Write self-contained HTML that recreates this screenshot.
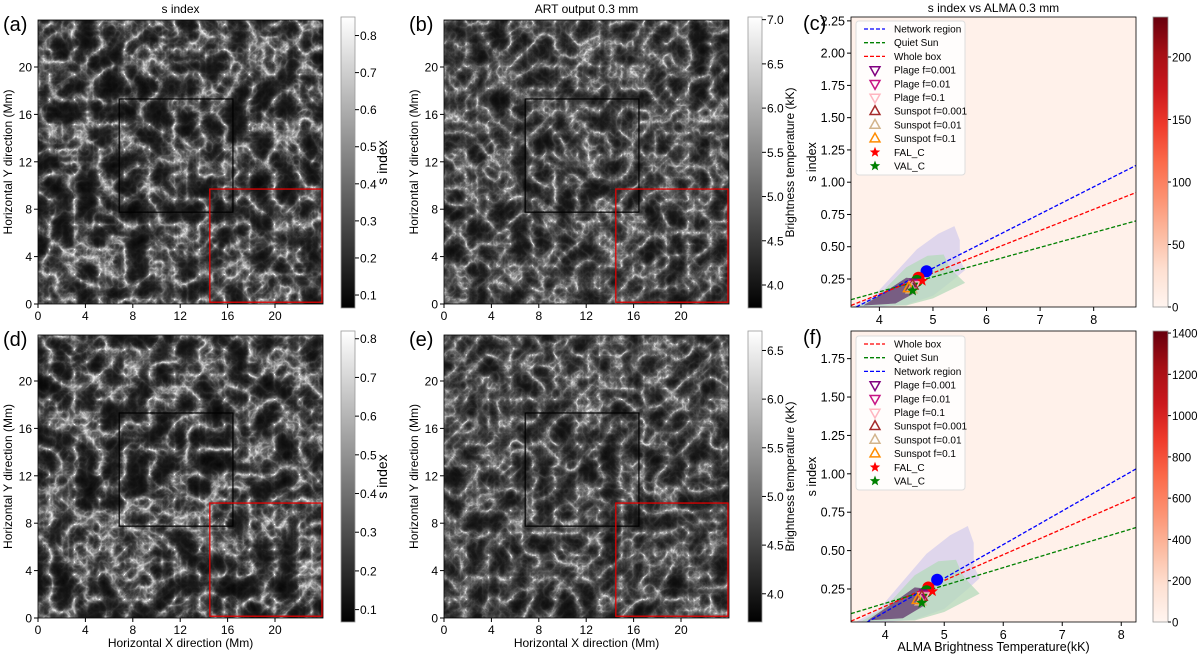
<!DOCTYPE html>
<html><head><meta charset="utf-8"><style>
html,body{margin:0;padding:0;background:#fff;}
svg{display:block;font-family:"Liberation Sans","DejaVu Sans",sans-serif;}
</style></head><body>
<svg id="fig" width="1200" height="655" viewBox="0 0 1200 655" xmlns="http://www.w3.org/2000/svg">
<defs>
<filter id="texA" x="0" y="0" width="100%" height="100%" color-interpolation-filters="sRGB">
<feTurbulence type="turbulence" baseFrequency="0.04" numOctaves="4" seed="4"/>
<feColorMatrix type="matrix" values="1 0 0 0 0  1 0 0 0 0  1 0 0 0 0  0 0 0 0 1"/>
<feComponentTransfer>
<feFuncR type="table" tableValues="1 0.66 0.4 0.25 0.16 0.11 0.08 0.06 0.04 0.03 0.03"/>
<feFuncG type="table" tableValues="1 0.66 0.4 0.25 0.16 0.11 0.08 0.06 0.04 0.03 0.03"/>
<feFuncB type="table" tableValues="1 0.66 0.4 0.25 0.16 0.11 0.08 0.06 0.04 0.03 0.03"/>
</feComponentTransfer>
</filter>
<filter id="texB" x="0" y="0" width="100%" height="100%" color-interpolation-filters="sRGB">
<feTurbulence type="turbulence" baseFrequency="0.045" numOctaves="4" seed="9"/>
<feColorMatrix type="matrix" values="1 0 0 0 0  1 0 0 0 0  1 0 0 0 0  0 0 0 0 1"/>
<feComponentTransfer>
<feFuncR type="table" tableValues="1 0.62 0.4 0.28 0.2 0.14 0.1 0.08 0.06 0.05 0.04"/>
<feFuncG type="table" tableValues="1 0.62 0.4 0.28 0.2 0.14 0.1 0.08 0.06 0.05 0.04"/>
<feFuncB type="table" tableValues="1 0.62 0.4 0.28 0.2 0.14 0.1 0.08 0.06 0.05 0.04"/>
</feComponentTransfer>
</filter>
<linearGradient id="grayG" x1="0" y1="1" x2="0" y2="0"><stop offset="0" stop-color="#000"/><stop offset="1" stop-color="#fff"/></linearGradient>
<linearGradient id="redG" x1="0" y1="1" x2="0" y2="0">
<stop offset="0" stop-color="#fff5f0"/><stop offset="0.125" stop-color="#fee0d2"/><stop offset="0.25" stop-color="#fcbba1"/><stop offset="0.375" stop-color="#fc9272"/><stop offset="0.5" stop-color="#fb6a4a"/><stop offset="0.625" stop-color="#ef3b2c"/><stop offset="0.75" stop-color="#cb181d"/><stop offset="0.875" stop-color="#a50f15"/><stop offset="1" stop-color="#67000d"/></linearGradient>
</defs>
<g id="root"></g>
</svg>
<script>
// ---- scatter panel data (c) ----
const xTicksC = [4,5,6,7,8];
const yTicksC = [0.25,0.5,0.75,1.0,1.25,1.5,1.75,2.0,2.25];
const yTickLabelsC = ["0.25","0.50","0.75","1.00","1.25","1.50","1.75","2.00","2.25"];
const lineNamesC = ["Network region","Quiet Sun","Whole box"];
const lineColorsC = ["#0000ff","#008000","#ff0000"];
const lineSlopesC = [0.21,0.1147,0.1645];
const lineInterceptsC = [-0.716,-0.308,-0.526];
const cbTicksC = [0,50,100,150,200];
// ---- scatter panel data (f) ----
const xTicksF = [4,5,6,7,8];
const yTicksF = [0.25,0.5,0.75,1.0,1.25,1.5,1.75];
const yTickLabelsF = ["0.25","0.50","0.75","1.00","1.25","1.50","1.75"];
const lineNamesF = ["Whole box","Quiet Sun","Network region"];
const lineColorsF = ["#ff0000","#008000","#0000ff"];
const lineSlopesF = [0.1677,0.116,0.219];
const lineInterceptsF = [-0.533,-0.307,-0.775];
const cbTicksF = [0,200,400,600,800,1000,1200,1400];
// ---- shared markers ----
const markerNames = ["Plage f=0.001","Plage f=0.01","Plage f=0.1","Sunspot f=0.001","Sunspot f=0.01","Sunspot f=0.1","FAL_C","VAL_C"];
const markerX = [4.68,4.67,4.65,4.62,4.6,4.55,4.8,4.62];
const markerY = [0.22,0.21,0.2,0.2,0.17,0.18,0.235,0.16];
const circleX = [4.88,4.73,4.7];
const circleY = [0.31,0.26,0.235];
const circleColors = ["#0000ff","#ff0000","#008000"];
// contour envelopes (data space)
const purpleX = [3.5,3.9,4.3,4.7,5.1,5.4,5.5,5.5,5.6,5.4,5.0,4.5,4.0];
const purpleY = [0.035,0.12,0.3,0.48,0.6,0.66,0.55,0.4,0.32,0.25,0.12,0.05,0.035];
const greenX = [3.6,4.0,4.5,4.9,5.2,5.3,5.4,5.6,5.4,5.0,4.5];
const greenY = [0.04,0.13,0.34,0.43,0.44,0.35,0.3,0.22,0.18,0.1,0.045];
const coreX = [3.7,4.1,4.5,4.75,4.65,4.3];
const coreY = [0.045,0.15,0.26,0.25,0.14,0.06];
// ---- image panel ticks ----
const imgTicks = [0,4,8,12,16,20];
const cbSTicks = [0.1,0.2,0.3,0.4,0.5,0.6,0.7,0.8];
const cbTTicksB = [4.0,4.5,5.0,5.5,6.0,6.5,7.0];
const cbTTicksE = [4.0,4.5,5.0,5.5,6.0,6.5];

const NS="http://www.w3.org/2000/svg";
const root=document.getElementById('root');
function mk(tag,attrs,name,inter,parent){
  const el=document.createElementNS(NS,tag);
  for(const k in attrs) el.setAttribute(k,attrs[k]);
  
  
  (parent||root).appendChild(el);return el;
}
function txt(x,y,s,size,name,anchor,rot){
  const a={x:x,y:y,'font-size':size,fill:'#000','text-anchor':anchor||'middle'};
  if(rot) a.transform='rotate(-90 '+x+' '+y+')';
  const t=mk('text',a,name,false);t.textContent=s;return t;
}

function imagePanel(x0,y0,w,h,filt,letter,title,pre,showXLabel){
  const s=w/24.05;
  const g=mk('g',{},pre+'-image-panel',false);
  mk('rect',{x:x0,y:y0,width:w,height:h,fill:'#222',filter:'url(#'+filt+')'},pre+'-heatmap',false,g);
  mk('rect',{x:x0,y:y0,width:w,height:h,fill:'none',stroke:'#000','stroke-width':0.8},pre+'-frame',false,g);
  mk('rect',{x:x0+6.85*s,y:y0+h-17.3*s,width:9.6*s,height:9.55*s,fill:'none',stroke:'#000','stroke-width':1.2},pre+'-network-box',false,g);
  mk('rect',{x:x0+14.5*s,y:y0+h-9.7*s,width:w-14.5*s-1,height:9.55*s,fill:'none',stroke:'#e00000','stroke-width':1.3},pre+'-quiet-box',false,g);
  imgTicks.forEach(v=>{
    const px=x0+v*s, py=y0+h-v*s;
    mk('line',{x1:px,y1:y0+h,x2:px,y2:y0+h+4,stroke:'#000'},pre+'-x-tick',false,g);
    txt(px,y0+h+16,String(v),12,pre+'-x-tick-label');
    mk('line',{x1:x0,y1:py,x2:x0-4,y2:py,stroke:'#000'},pre+'-y-tick',false,g);
    txt(x0-6,py+4.5,String(v),12,pre+'-y-tick-label','end');
  });
  txt(x0-26,y0+h/2,'Horizontal Y direction (Mm)',12,pre+'-y-axis-title','middle',true);
  if(showXLabel) txt(x0+w/2,y0+h+29,'Horizontal X direction (Mm)',12,pre+'-x-axis-title');
  if(title) txt(x0+w/2,y0-7,title,12,pre+'-title');
  txt(x0-35,y0+11,letter,20,pre+'-panel-letter','start');
}
function grayBar(x,top,bot,vmin,vmax,ticks,dec,label,pre){
  mk('rect',{x:x,y:top,width:14,height:bot-top,fill:'url(#grayG)',stroke:'#999','stroke-width':0.8},pre+'-colorbar',false);
  ticks.forEach(v=>{
    const py=bot-(v-vmin)/(vmax-vmin)*(bot-top);
    mk('line',{x1:x+14,y1:py,x2:x+18,y2:py,stroke:'#000'},pre+'-colorbar-tick',false);
    txt(x+19,py+4.5,v.toFixed(dec),12,pre+'-colorbar-tick-label','start');
  });
  txt(x+46,(top+bot)/2,label,label.length>10?12:14,pre+'-colorbar-title','middle',true);
}
imagePanel(38,20,285,284,'texA','(a)','s index','a',false);
imagePanel(444,20,285,284,'texB','(b)','ART output 0.3 mm','b',false);
imagePanel(38,335,285,283,'texA','(d)','','d',true);
imagePanel(444,335,285,283,'texB','(e)','','e',true);
grayBar(341,17,308,0.065,0.85,cbSTicks,1,'s index','a');
grayBar(748,17,308,3.74,7.03,cbTTicksB,1,'Brightness temperature (kK)','b');
grayBar(341,331,622,0.068,0.82,cbSTicks,1,'s index','d');
grayBar(748,331,622,3.71,6.7,cbTTicksE,1,'Brightness temperature (kK)','e');

function poly(xs,ys,X,Y){return xs.map((v,i)=>X(v).toFixed(1)+','+Y(ys[i]).toFixed(1)).join(' ');}
function star(cx,cy,r){let p=[];for(let i=0;i<10;i++){const a=-Math.PI/2+i*Math.PI/5,rr=i%2?r*0.42:r;p.push((cx+rr*Math.cos(a)).toFixed(1)+','+(cy+rr*Math.sin(a)).toFixed(1));}return p.join(' ');}
function tri(cx,cy,r,up){return up?`${cx},${cy-r} ${cx-r*0.9},${cy+r*0.6} ${cx+r*0.9},${cy+r*0.6}`:`${cx},${cy+r} ${cx-r*0.9},${cy-r*0.6} ${cx+r*0.9},${cy-r*0.6}`;}
const mColors=["#800080","#c71585","#ffb6c1","#a52a2a","#d2b48c","#ff8c00","#ff0000","#008000"];

function scatterPanel(P){
  const X=v=>P.L+(v-P.xmin)/(P.xmax-P.xmin)*(P.R-P.L);
  const Y=v=>P.B-(v-P.ymin)/(P.ymax-P.ymin)*(P.B-P.T);
  const g=mk('g',{},P.pre+'-scatter-panel',false);
  const cp=P.pre+'clip';
  const defs=mk('clipPath',{id:cp},P.pre+'-clip',false,g);
  mk('rect',{x:P.L,y:P.T,width:P.R-P.L,height:P.B-P.T},P.pre+'-clip-rect',false,defs);
  mk('rect',{x:P.L,y:P.T,width:P.R-P.L,height:P.B-P.T,fill:'#fff1ea'},P.pre+'-plot-background',false,g);
  const cg=mk('g',{'clip-path':'url(#'+cp+')'},P.pre+'-plot-content',false,g);
  mk('polygon',{points:poly(purpleX,purpleY,X,Y),fill:'#d4ccec','fill-opacity':0.75},P.pre+'-network-density',false,cg);
  mk('polygon',{points:poly(greenX,greenY,X,Y),fill:'#b4dabb','fill-opacity':0.75},P.pre+'-quiet-density',false,cg);
  mk('polygon',{points:poly(coreX,coreY,X,Y),fill:'#5a2a66','fill-opacity':0.7},P.pre+'-core-density',false,cg);
  P.slopes.forEach((m,i)=>{
    mk('line',{x1:X(P.xmin),y1:Y(m*P.xmin+P.ints[i]),x2:X(P.xmax),y2:Y(m*P.xmax+P.ints[i]),stroke:P.colors[i],'stroke-width':1.3,'stroke-dasharray':'4,2'},P.pre+'-fit-line',false,cg);
  });
  circleX.forEach((v,i)=>mk('circle',{cx:X(v),cy:Y(circleY[i]),r:6,fill:circleColors[i]},P.pre+'-mean-point',false,cg));
  markerX.forEach((v,i)=>{
    const cx=X(v),cy=Y(markerY[i]);
    if(i<3) mk('polygon',{points:tri(cx,cy,6,false),fill:'none',stroke:mColors[i],'stroke-width':1.5},P.pre+'-plage-marker',false,cg);
    else if(i<6) mk('polygon',{points:tri(cx,cy,6,true),fill:'none',stroke:mColors[i],'stroke-width':1.5},P.pre+'-sunspot-marker',false,cg);
    else mk('polygon',{points:star(cx,cy,6),fill:mColors[i]},P.pre+'-model-marker',false,cg);
  });
  mk('rect',{x:P.L,y:P.T,width:P.R-P.L,height:P.B-P.T,fill:'none',stroke:'#000','stroke-width':0.8},P.pre+'-axes-frame',false,g);
  P.xt.forEach(v=>{mk('line',{x1:X(v),y1:P.B,x2:X(v),y2:P.B+4,stroke:'#000'},P.pre+'-x-tick',false,g);txt(X(v),P.B+17,String(v),12.5,P.pre+'-x-tick-label');});
  P.yt.forEach((v,i)=>{mk('line',{x1:P.L,y1:Y(v),x2:P.L-4,y2:Y(v),stroke:'#000'},P.pre+'-y-tick',false,g);txt(P.L-6,Y(v)+4.5,P.ytl[i],12.5,P.pre+'-y-tick-label','end');});
  txt(P.L-35,(P.T+P.B)/2,'s index',12.5,P.pre+'-y-axis-title','middle',true);
  if(P.title) txt((P.L+P.R)/2,P.T-5,P.title,12,P.pre+'-title');
  if(P.xlabel) txt((P.L+P.R)/2,P.B+29,P.xlabel,12.5,P.pre+'-x-axis-title');
  txt(P.L-48,P.T+13,P.letter,20,P.pre+'-panel-letter','start');
  // legend
  const lg=mk('g',{},P.pre+'-legend',false,g);
  mk('rect',{x:P.L+5,y:P.lgT,width:109,height:154,fill:'#fff','fill-opacity':0.85,stroke:'#ddd',rx:3},P.pre+'-legend-box',false,lg);
  const names=P.names.concat(markerNames);
  names.forEach((n,i)=>{
    const yy=P.lgT+8+i*13.7, lx=P.L+13;
    if(i<3) mk('line',{x1:lx,y1:yy,x2:lx+21,y2:yy,stroke:P.colors[i],'stroke-width':1.3,'stroke-dasharray':'4,2'},P.pre+'-legend-swatch',false,lg);
    else { const k=i-3;
      if(k<3) mk('polygon',{points:tri(lx+11,yy,5.5,false),fill:'none',stroke:mColors[k],'stroke-width':1.5},P.pre+'-legend-swatch',false,lg);
      else if(k<6) mk('polygon',{points:tri(lx+11,yy,5.5,true),fill:'none',stroke:mColors[k],'stroke-width':1.5},P.pre+'-legend-swatch',false,lg);
      else mk('polygon',{points:star(lx+11,yy,5.5),fill:mColors[k]},P.pre+'-legend-swatch',false,lg);
    }
    const t=mk('text',{x:lx+30,y:yy+3.5,'font-size':10,fill:'#000'},P.pre+'-legend-entry',false,lg);t.textContent=n;
  });
  // colorbar
  const cx=1153;
  mk('rect',{x:cx,y:P.T,width:15,height:P.B-P.T,fill:'url(#redG)',stroke:'#999','stroke-width':0.8},P.pre+'-colorbar',false,g);
  P.cbt.forEach(v=>{const py=P.B-v/P.cbmax*(P.B-P.T);mk('line',{x1:cx+15,y1:py,x2:cx+18,y2:py,stroke:'#000'},P.pre+'-colorbar-tick',false,g);txt(cx+19,py+4.5,String(v),11.5,P.pre+'-colorbar-tick-label','start');});
}
scatterPanel({pre:'c',L:851,R:1136,T:17,B:307,xmin:3.47,xmax:8.79,ymin:0.033,ymax:2.28,xt:xTicksC,yt:yTicksC,ytl:yTickLabelsC,slopes:lineSlopesC,ints:lineInterceptsC,colors:lineColorsC,names:lineNamesC,cbt:cbTicksC,cbmax:232,title:'s index vs ALMA 0.3 mm',xlabel:'',letter:'(c)',lgT:21});
scatterPanel({pre:'f',L:851,R:1136,T:331,B:622,xmin:3.42,xmax:8.25,ymin:0.035,ymax:1.93,xt:xTicksF,yt:yTicksF,ytl:yTickLabelsF,slopes:lineSlopesF,ints:lineInterceptsF,colors:lineColorsF,names:lineNamesF,cbt:cbTicksF,cbmax:1410,title:'',xlabel:'ALMA Brightness Temperature(kK)',letter:'(f)',lgT:336});
</script>
</body></html>
